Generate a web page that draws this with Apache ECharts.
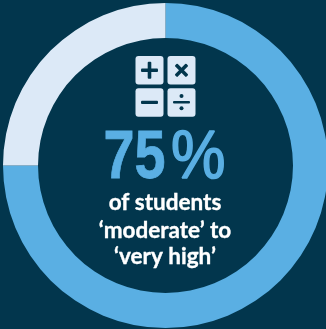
<!DOCTYPE html>
<html>
<head>
<meta charset="utf-8">
<style>
html,body{margin:0;padding:0;background:#02364d;}
#chart{width:326px;height:329px;}
</style>
<script src="https://cdn.jsdelivr.net/npm/echarts@6/dist/echarts.min.js"></script>
</head>
<body>
<div id="chart"></div>
<script>
// Share of students in the moderate-to-very-high band, and the remainder
const categories = ['moderate to very high', 'other'];
const shares = [75, 25];
const captionLines = ['of students', '‘moderate’ to', '‘very high’'];

const NAVY = '#02364d';
const BLUE = '#5aafe3';
const PALE = '#dce9f7';

// Calculator keypad: four rounded keys holding + x - and a division sign
function keypad() {
  const bar = (x, y, w, h, rotation) => ({
    type: 'rect', x: x - w / 2, y: y - h / 2,
    originX: w / 2, originY: h / 2, rotation: rotation || 0,
    shape: { width: w, height: h, r: 1 },
    style: { fill: NAVY }
  });
  const key = (x, y) => ({
    type: 'rect', x, y,
    shape: { width: 28, height: 28.5, r: 3 },
    style: { fill: PALE }
  });
  const dot = (x, y) => ({
    type: 'circle', shape: { cx: x, cy: y, r: 2 }, style: { fill: NAVY }
  });
  return [
    key(135.5, 56), key(167.5, 56), key(135.5, 88.3), key(167.5, 88.3),
    bar(149.5, 70.3, 17, 3.6), bar(149.5, 70.3, 3.6, 17),
    bar(181.5, 70.3, 16, 3.6, Math.PI / 4), bar(181.5, 70.3, 16, 3.6, -Math.PI / 4),
    bar(149.5, 102.3, 17, 3.2),
    bar(181.5, 102.3, 17, 2.4), dot(181.5, 96), dot(181.5, 108.3)
  ];
}

const baselines = [214.5, 242, 268.5];
const captions = captionLines.map((t, i) => ({
  type: 'text', x: 165, y: baselines[i],
  style: {
    text: t, fill: '#ffffff', align: 'center', verticalAlign: 'bottom',
    font: 'bold 22.5px Lato, "Open Sans", sans-serif',
    stroke: '#ffffff', lineWidth: 0.35
  }
}));

const chart = echarts.init(document.getElementById('chart'), null, { renderer: 'canvas' });
chart.setOption({
  backgroundColor: NAVY,
  animation: false,
  series: [{
    type: 'pie',
    center: [165.5, 165.5],
    radius: [127.5, 162.5],
    startAngle: 90,
    clockwise: true,
    silent: true,
    label: { show: false },
    labelLine: { show: false },
    data: categories.map((name, i) => ({
      name, value: shares[i],
      itemStyle: { color: i === 0 ? BLUE : PALE }
    }))
  }],
  graphic: { elements: [
    ...keypad(),
    // The figure is squeezed horizontally to get a condensed look
    {
      type: 'text', x: 103.5, y: 193.5, scaleX: 0.82,
      style: {
        text: String(shares[0]), fill: BLUE, align: 'left', verticalAlign: 'bottom',
        font: 'bold 68px "Liberation Sans", sans-serif',
        stroke: BLUE, lineWidth: 0.8
      }
    },
    {
      type: 'text', x: 171, y: 193.5, scaleX: 0.9,
      style: {
        text: '%', fill: BLUE, align: 'left', verticalAlign: 'bottom',
        font: '68px "Liberation Sans", sans-serif',
        stroke: BLUE, lineWidth: 1.6
      }
    },
    ...captions
  ] }
});
</script>
</body>
</html>
